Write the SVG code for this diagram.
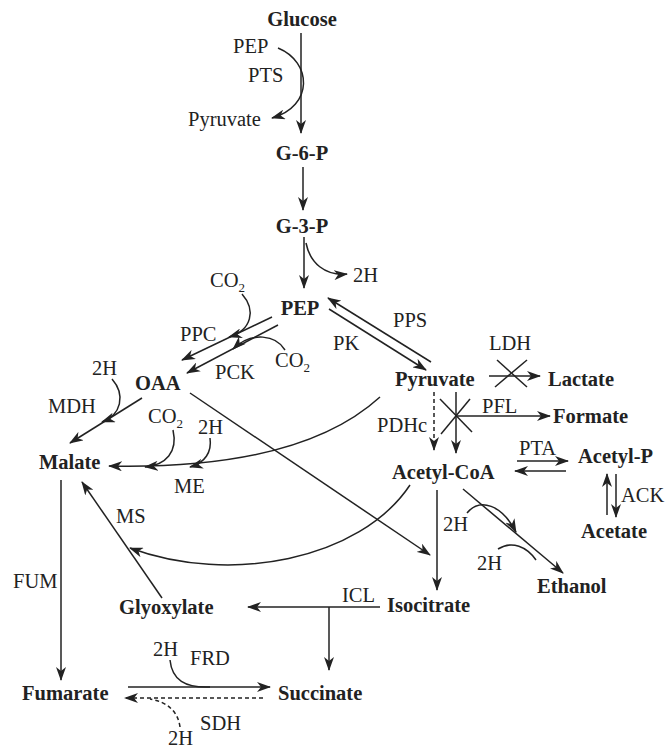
<svg xmlns="http://www.w3.org/2000/svg" width="666" height="750" viewBox="0 0 666 750">
<style>
text{font-family:"Liberation Serif","Times New Roman",serif;font-size:20.5px;fill:#222}
.b{font-weight:bold}
.s{font-size:13px}
.l{fill:none;stroke:#222;stroke-width:1.5}
.d{stroke-dasharray:4,3}
.m{marker-end:url(#a)}
</style>
<defs>
<marker id="a" viewBox="0 0 14 10" refX="13" refY="5" markerWidth="14" markerHeight="10" markerUnits="userSpaceOnUse" orient="auto"><path d="M0,0 L14,5 L0,10 L4,5 z" fill="#222"/></marker>
</defs>
<rect width="666" height="750" fill="#fff"/>
<g id="connectors">
<line class="l m" x1="301" y1="33" x2="301" y2="133"/>
<path class="l m" d="M278,48 C312,62 314,106 272,118"/>
<line class="l m" x1="303" y1="167" x2="303" y2="210"/>
<line class="l m" x1="304" y1="237" x2="304" y2="288"/>
<path class="l m" d="M306,243 C310,263 325,276 347,274"/>
<path class="l m" d="M242,294 C256,310 252,330 229,337"/>
<line class="l m" x1="272" y1="317" x2="182" y2="360"/>
<line class="l m" x1="278" y1="325" x2="187" y2="373"/>
<path class="l m" d="M285,350 C276,335 252,331 233,349"/>
<line class="l m" x1="431" y1="362" x2="328" y2="298"/>
<line class="l m" x1="329" y1="309" x2="426" y2="370"/>
<line class="l m" x1="489" y1="376" x2="540" y2="376"/>
<line class="l" x1="495" y1="387" x2="527" y2="360"/>
<line class="l" x1="497" y1="360" x2="527" y2="387"/>
<line class="l d m" x1="434" y1="392" x2="434" y2="450"/>
<line class="l m" x1="456" y1="392" x2="456" y2="453"/>
<line class="l m" x1="456" y1="416" x2="550" y2="416"/>
<line class="l" x1="440" y1="399" x2="472" y2="432"/>
<line class="l" x1="470" y1="399" x2="441" y2="434"/>
<line class="l m" x1="517" y1="461" x2="568" y2="461"/>
<line class="l m" x1="566" y1="471" x2="515" y2="471"/>
<line class="l m" x1="607" y1="515" x2="607" y2="474"/>
<line class="l m" x1="616" y1="474" x2="616" y2="517"/>
<line class="l m" x1="437" y1="490" x2="437" y2="590"/>
<line class="l m" x1="463" y1="489" x2="563" y2="573"/>
<path class="l m" d="M467,513 C480,497 502,505 516,532"/>
<path class="l" d="M498,549 C512,540 527,547 536,560"/>
<line class="l m" x1="190" y1="393" x2="430" y2="555"/>
<path class="l m" d="M380,397 Q300,470 109,466"/>
<path class="l m" d="M173,430 C178,452 166,465 145,467"/>
<path class="l m" d="M210,438 C212,452 205,463 190,467"/>
<path class="l m" d="M112,379 C126,395 121,415 102,422"/>
<line class="l m" x1="142" y1="398" x2="70" y2="443"/>
<line class="l m" x1="162" y1="598" x2="82" y2="482"/>
<path class="l m" d="M410,485 C360,560 230,585 130,548"/>
<line class="l m" x1="61" y1="480" x2="61" y2="680"/>
<line class="l m" x1="380" y1="607" x2="248" y2="607"/>
<line class="l m" x1="329" y1="607" x2="329" y2="670"/>
<line class="l m" x1="128" y1="687" x2="270" y2="687"/>
<line class="l d m" x1="263" y1="698" x2="125" y2="698"/>
<path class="l" d="M170,660 C172,680 185,688 210,687"/>
<path class="l d" d="M180,727 C178,712 168,702 150,699"/>
</g>
<g id="glucose"><text class="b" x="302" y="26" text-anchor="middle">Glucose</text></g>
<g id="pts-labels">
<text x="233" y="53">PEP</text>
<text x="248" y="82">PTS</text>
<text x="188" y="126">Pyruvate</text>
</g>
<g id="g6p"><text class="b" x="302" y="160" text-anchor="middle">G-6-P</text></g>
<g id="g3p"><text class="b" x="302" y="233" text-anchor="middle">G-3-P</text></g>
<g id="h2-gap"><text x="353" y="282">2H</text></g>
<g id="pep"><text class="b" x="300" y="315" text-anchor="middle">PEP</text></g>
<g id="ppc-labels">
<text x="210" y="287">CO<tspan class="s" dy="5">2</tspan></text>
<text x="180" y="341">PPC</text>
<text x="215" y="379">PCK</text>
<text x="275" y="367">CO<tspan class="s" dy="5">2</tspan></text>
</g>
<g id="pps-labels">
<text x="393" y="327">PPS</text>
<text x="333" y="350">PK</text>
</g>
<g id="oaa"><text class="b" x="135" y="390">OAA</text></g>
<g id="pyruvate"><text class="b" x="395" y="386">Pyruvate</text></g>
<g id="lactate">
<text x="489" y="350">LDH</text>
<text class="b" x="548" y="386">Lactate</text>
</g>
<g id="formate">
<text x="482" y="413">PFL</text>
<text class="b" x="553" y="423">Formate</text>
</g>
<g id="pdhc"><text x="377" y="432">PDHc</text></g>
<g id="acetylcoa"><text class="b" x="392" y="479">Acetyl-CoA</text></g>
<g id="acetylp">
<text x="519" y="455">PTA</text>
<text class="b" x="578" y="463">Acetyl-P</text>
</g>
<g id="acetate">
<text x="621" y="502">ACK</text>
<text class="b" x="581" y="538">Acetate</text>
</g>
<g id="ethanol">
<text x="443" y="531">2H</text>
<text x="477" y="570">2H</text>
<text class="b" x="537" y="593">Ethanol</text>
</g>
<g id="malate">
<text x="92" y="375">2H</text>
<text x="48" y="413">MDH</text>
<text class="b" x="39" y="469">Malate</text>
<text x="148" y="423">CO<tspan class="s" dy="5">2</tspan></text>
<text x="198" y="434">2H</text>
<text x="174" y="493">ME</text>
<text x="116" y="523">MS</text>
<text x="13" y="588">FUM</text>
</g>
<g id="isocitrate">
<text class="b" x="387" y="612">Isocitrate</text>
<text x="342" y="602">ICL</text>
</g>
<g id="glyoxylate"><text class="b" x="119" y="614">Glyoxylate</text></g>
<g id="fumarate"><text class="b" x="22" y="700">Fumarate</text></g>
<g id="succinate"><text class="b" x="278" y="700">Succinate</text></g>
<g id="frd-sdh">
<text x="153" y="656">2H</text>
<text x="190" y="665">FRD</text>
<text x="200" y="730">SDH</text>
<text x="168" y="745">2H</text>
</g>
</svg>
